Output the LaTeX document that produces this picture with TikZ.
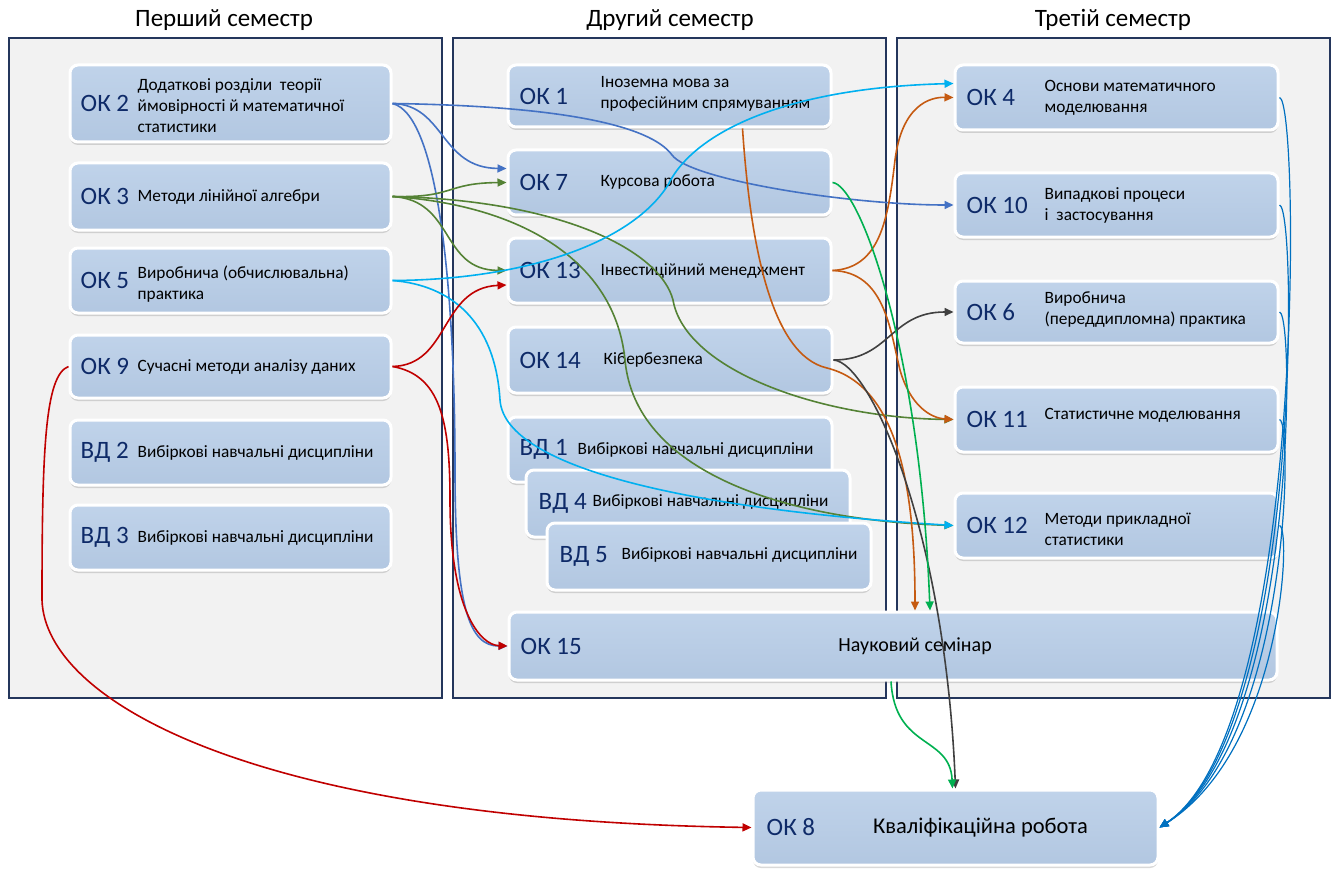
\documentclass[tikz,border=0pt]{standalone}
\usepackage{fontspec}
\setmainfont{Carlito}
\usepackage{tikz}
\usetikzlibrary{arrows.meta,shadows}

\definecolor{panelfill}{HTML}{F2F2F2}
\definecolor{paneldraw}{HTML}{24365C}
\definecolor{boxtop}{HTML}{C0D3EA}
\definecolor{boxbot}{HTML}{B2C7E1}
\definecolor{codecol}{HTML}{0E2A68}
\definecolor{lnblue}{HTML}{4472C4}
\definecolor{lngreen}{HTML}{548235}
\definecolor{lncyan}{HTML}{00B0F0}
\definecolor{lnred}{HTML}{C00000}
\definecolor{lnorange}{HTML}{C55A11}
\definecolor{lngray}{HTML}{404040}
\definecolor{lnlime}{HTML}{00B050}
\definecolor{lndeep}{HTML}{0070C0}

\begin{document}
\begin{tikzpicture}[x=1pt, y=-1pt,
  panel/.style={fill=panelfill, draw=paneldraw, line width=1.2pt, minimum width=433pt, minimum height=660pt},
  sem/.style={font=\fontsize{25}{30}\selectfont},
  course/.style={rounded corners=8pt, top color=boxtop, bottom color=boxbot, draw=white, line width=3pt,
    drop shadow={shadow xshift=0pt, shadow yshift=-3pt, opacity=0.3}, inner sep=0pt},
  code/.style={anchor=west, text=codecol, font=\fontsize{25}{30}\selectfont, inner sep=0pt},
  desc/.style={anchor=west, align=left, font=\fontsize{17.3}{21}\selectfont, inner sep=0pt},
  link/.style={line width=1.6pt, -{Triangle[length=9pt,width=8pt]}},
  final/.style={line width=1.2pt, lndeep, -{Triangle[length=9pt,width=8pt]}}]

\useasboundingbox (0,0) rectangle (1338,869);

% ==== Semesters ====
\node[panel] (sem1) at (225.5,368) {};
\node[panel] (sem2) at (669.5,368) {};
\node[panel] (sem3) at (1113.5,368) {};
\node[sem] (sem1t) at (224,20) {Перший семестр};
\node[sem] (sem2t) at (670,20) {Другий семестр};
\node[sem] (sem3t) at (1113,20) {Третій семестр};

% ==== First semester ====
\node[course, minimum width=321pt, minimum height=77pt] (ok2) at (230.5,103.5) {};
\node[code] (ok2c) at ([xshift=12pt]ok2.west) {ОК 2};
\node[desc] (ok2d) at ([xshift=69pt,yshift=-2pt]ok2.west) {Додаткові розділи\ \ теорії\\ймовірності й математичної\\статистики};

\node[course, minimum width=321pt, minimum height=67pt] (ok3) at (230.5,196.5) {};
\node[code] (ok3c) at ([xshift=12pt]ok3.west) {ОК 3};
\node[desc] (ok3d) at ([xshift=69pt]ok3.west) {Методи лінійної алгебри};

\node[course, minimum width=321pt, minimum height=65pt] (ok5) at (230.5,280.5) {};
\node[code] (ok5c) at ([xshift=12pt]ok5.west) {ОК 5};
\node[desc] (ok5d) at ([xshift=69pt,yshift=-4pt]ok5.west) {Виробнича (обчислювальна)\\практика};

\node[course, minimum width=321pt, minimum height=63pt] (ok9) at (230.5,366.5) {};
\node[code] (ok9c) at ([xshift=12pt]ok9.west) {ОК 9};
\node[desc] (ok9d) at ([xshift=69pt]ok9.west) {Сучасні методи аналізу даних};

\node[course, minimum width=321pt, minimum height=65pt] (vd2) at (230.5,452.5) {};
\node[code] (vd2c) at ([xshift=12pt]vd2.west) {ВД 2};
\node[desc] (vd2d) at ([xshift=69pt]vd2.west) {Вибіркові навчальні дисципліни};

\node[course, minimum width=321pt, minimum height=65pt] (vd3) at (230.5,537.5) {};
\node[code] (vd3c) at ([xshift=12pt]vd3.west) {ВД 3};
\node[desc] (vd3d) at ([xshift=69pt]vd3.west) {Вибіркові навчальні дисципліни};

% ==== Second semester ====
\node[course, minimum width=323pt, minimum height=62pt] (ok1) at (669.5,96) {};
\node[code] (ok1c) at ([xshift=13pt]ok1.west) {ОК 1};
\node[desc] (ok1d) at ([xshift=94pt,yshift=2pt]ok1.west) {Іноземна мова за\\професійним спрямуванням};

\node[course, minimum width=323pt, minimum height=65pt] (ok7) at (669.5,182.5) {};
\node[code] (ok7c) at ([xshift=13pt]ok7.west) {ОК 7};
\node[desc] (ok7d) at ([xshift=94pt]ok7.west) {Курсова робота};

\node[course, minimum width=323pt, minimum height=65pt] (ok13) at (669.5,270.5) {};
\node[code] (ok13c) at ([xshift=13pt]ok13.west) {ОК 13};
\node[desc] (ok13d) at ([xshift=94pt]ok13.west) {Інвестиційний менеджмент};

\node[course, minimum width=324pt, minimum height=66pt] (ok14) at (670,360) {};
\node[code] (ok14c) at ([xshift=13pt]ok14.west) {ОК 14};
\node[desc] (ok14d) at ([xshift=97pt]ok14.west) {Кібербезпека};

\node[course, minimum width=324pt, minimum height=65pt] (vd1) at (670,449.5) {};
\node[code] (vd1c) at ([xshift=13pt]vd1.west) {ВД 1};
\node[desc] (vd1d) at ([xshift=71pt]vd1.west) {Вибіркові навчальні дисципліни};

\node[course, minimum width=324pt, minimum height=67pt] (vd4) at (688,503.5) {};
\node[code] (vd4c) at ([xshift=14pt]vd4.west) {ВД 4};
\node[desc] (vd4d) at ([xshift=68pt,yshift=2pt]vd4.west) {Вибіркові навчальні дисципліни};

\node[course, minimum width=324pt, minimum height=67pt] (vd5) at (709,556.5) {};
\node[code] (vd5c) at ([xshift=14pt]vd5.west) {ВД 5};
\node[desc] (vd5d) at ([xshift=76pt,yshift=2pt]vd5.west) {Вибіркові навчальні дисципліни};

% ==== Third semester ====
\node[course, minimum width=323pt, minimum height=65pt] (ok4) at (1116.5,97.5) {};
\node[code] (ok4c) at ([xshift=13pt]ok4.west) {ОК 4};
\node[desc] (ok4d) at ([xshift=91pt]ok4.west) {Основи математичного\\моделювання};

\node[course, minimum width=323pt, minimum height=64pt] (ok10) at (1116.5,205) {};
\node[code] (ok10c) at ([xshift=13pt]ok10.west) {ОК 10};
\node[desc] (ok10d) at ([xshift=91pt]ok10.west) {Випадкові процеси\\і\ \ застосування};

\node[course, minimum width=323pt, minimum height=62pt] (ok6) at (1116.5,312) {};
\node[code] (ok6c) at ([xshift=13pt]ok6.west) {ОК 6};
\node[desc] (ok6d) at ([xshift=91pt,yshift=2pt]ok6.west) {Виробнича\\(переддипломна) практика};

\node[course, minimum width=323pt, minimum height=65pt] (ok11) at (1116.5,419.5) {};
\node[code] (ok11c) at ([xshift=13pt]ok11.west) {ОК 11};
\node[desc] (ok11d) at ([xshift=91pt,yshift=4pt]ok11.west) {Статистичне моделювання};

\node[course, minimum width=323pt, minimum height=65pt] (ok12) at (1116.5,525.5) {};
\node[code] (ok12c) at ([xshift=13pt]ok12.west) {ОК 12};
\node[desc] (ok12d) at ([xshift=91pt,yshift=-4pt]ok12.west) {Методи прикладної\\статистики};

% ==== Across semesters ====
\node[course, minimum width=768pt, minimum height=68pt] (ok15) at (893,646) {};
\node[code] (ok15c) at ([xshift=13pt]ok15.west) {ОК 15};
\node[font=\fontsize{20}{24}\selectfont, inner sep=0pt] (ok15d) at ([xshift=22pt]ok15.center) {Науковий семінар};

\node[course, minimum width=405pt, minimum height=75pt] (ok8) at (955.5,827.5) {};
\node[code] (ok8c) at ([xshift=15pt]ok8.west) {ОК 8};
\node[font=\fontsize{22.5}{27}\selectfont, inner sep=0pt] (ok8d) at ([xshift=25pt]ok8.center) {Кваліфікаційна робота};

% ==== Links ====
% OK 2
\draw[link, lnblue] (ok2.east) .. controls (445,105) and (440,168) .. ([yshift=14pt]ok7.west);
\draw[link, lnblue] (ok2.east) .. controls (560,106) and (650,125) .. (672,155) .. controls (690,180) and (850,205) .. (ok10.west);
\draw[link, lnblue] (ok2.east) .. controls (440,115) and (455,300) .. (455,470) .. controls (455,610) and (470,646) .. (ok15.west);

% OK 3
\draw[link, lngreen] (ok3.east) .. controls (455,198) and (445,183) .. (ok7.west);
\draw[link, lngreen] (ok3.east) .. controls (455,200) and (440,270) .. (ok13.west);
\draw[link, lngreen] (ok3.east) .. controls (560,200) and (660,250) .. (673,300) .. controls (685,370) and (820,418) .. (ok11.west);
\draw[link, lngreen] (ok3.east) .. controls (520,205) and (615,260) .. (625,360) .. controls (635,470) and (780,520) .. (ok12.west);

% OK 5
\draw[link, lncyan] (ok5.east) .. controls (520,280) and (630,245) .. (668,185) .. controls (692,135) and (780,88) .. ([yshift=14pt]ok4.west);
\draw[link, lncyan] (ok5.east) .. controls (450,285) and (495,320) .. (500,400) .. controls (505,470) and (700,510) .. (ok12.west);

% OK 9
\draw[link, lnred] (ok9.east) .. controls (450,365) and (440,288) .. ([yshift=-14.5pt]ok13.west);
\draw[link, lnred] (ok9.east) .. controls (440,375) and (450,420) .. (450,500) .. controls (450,610) and (480,645) .. (ok15.west);
\draw[link, lnred] (ok9.west) .. controls (45,375) and (42,450) .. (42,600) .. controls (45,700) and (250,820) .. (ok8.west);

% OK 13 and OK 1
\draw[link, lnorange] (ok13.east) .. controls (880,268) and (888,220) .. (895,160) .. controls (902,105) and (930,97) .. (ok4.west);
\draw[link, lnorange] (ok13.east) .. controls (885,272) and (890,330) .. (900,370) .. controls (910,405) and (930,418) .. (ok11.west);
\draw[link, lnorange] ([xshift=73pt]ok1.south) .. controls (750,240) and (770,355) .. (827,368) .. controls (895,385) and (915,480) .. ([xshift=22pt]ok15.north);

% OK 14
\draw[link, lngray] (ok14.east) .. controls (890,360) and (890,312) .. (ok6.west);
\draw[link, lngray] (ok14.east) .. controls (870,362) and (945,530) .. (ok8.north);

% OK 7 and OK 15
\draw[link, lnlime] (ok7.east) .. controls (860,185) and (920,350) .. ([xshift=37pt]ok15.north);
\draw[link, lnlime] ([xshift=-2pt]ok15.south) .. controls (895,750) and (950,735) .. ([xshift=-3pt]ok8.north);

% third semester to OK 8
\draw[final] (ok4.east) .. controls (1300,100) and (1306,730) .. (ok8.east);
\draw[final] (ok10.east) .. controls (1298,208) and (1300,735) .. (ok8.east);
\draw[final] (ok6.east) .. controls (1296,315) and (1294,740) .. (ok8.east);
\draw[final] (ok11.east) .. controls (1294,422) and (1288,745) .. (ok8.east);
\draw[final] (ok12.east) .. controls (1292,528) and (1282,750) .. (ok8.east);

\end{tikzpicture}
\end{document}
